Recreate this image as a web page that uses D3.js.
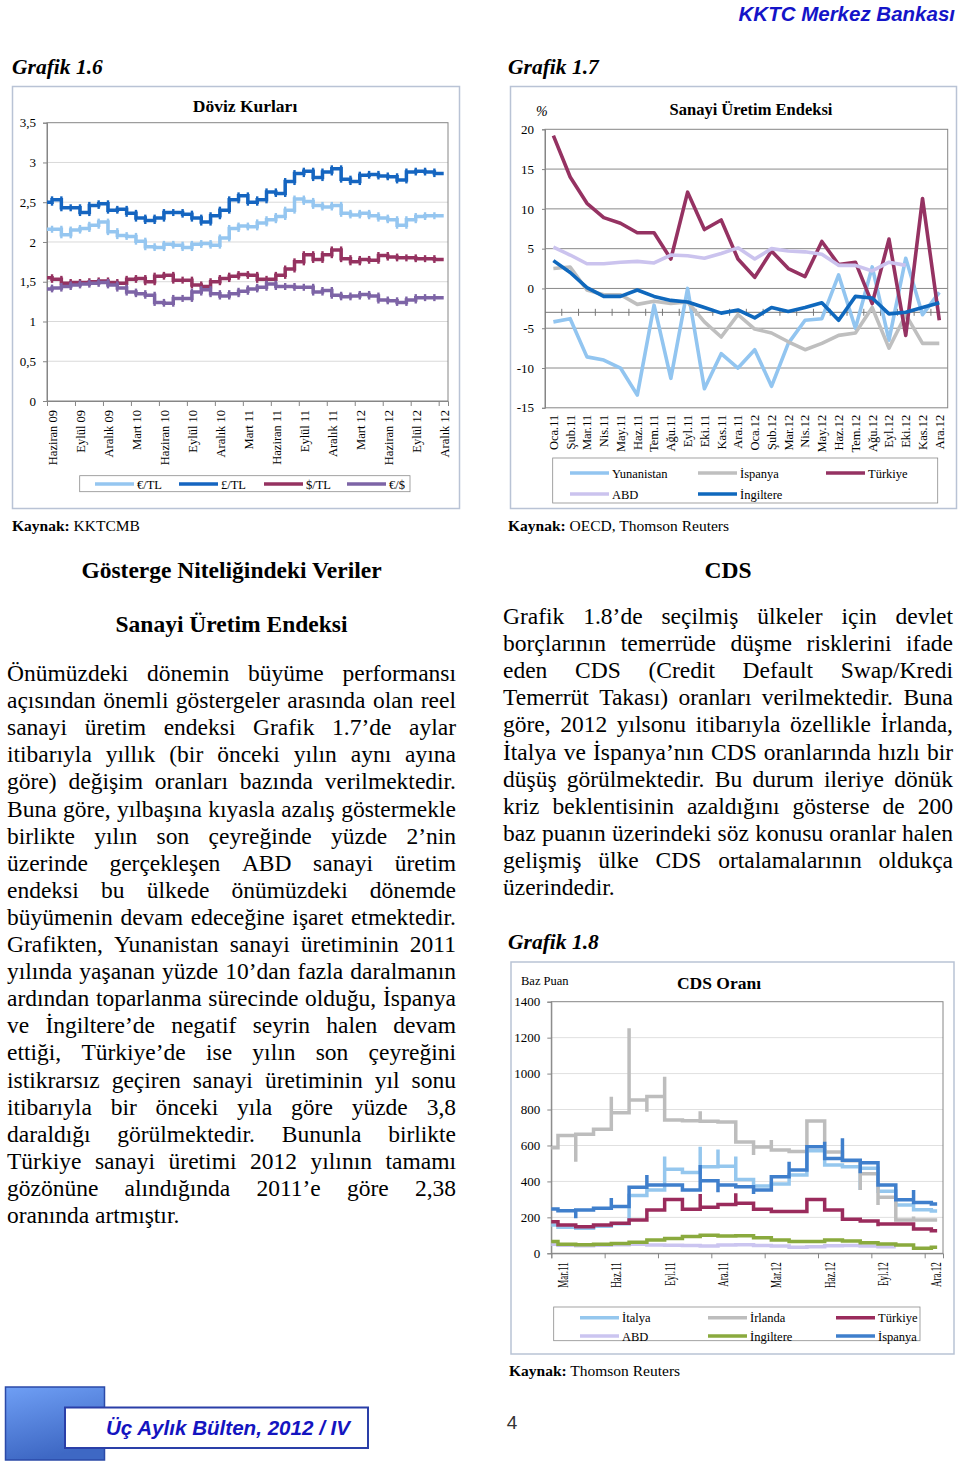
<!DOCTYPE html>
<html><head><meta charset="utf-8">
<script src="https://cdn.jsdelivr.net/npm/d3@7"></script>
<style>body{margin:0;background:#fff}svg{display:block}</style>
</head><body>
<svg id="page" width="960" height="1466"></svg>
<script>
// ---------- DATA ----------
// Grafik 1.6 Döviz Kurları (monthly, Haziran 09 .. Aralık 12)
const fxTickLabels = ["Haziran 09","Eylül 09","Aralık 09","Mart 10","Haziran 10","Eylül 10","Aralık 10","Mart 11","Haziran 11","Eylül 11","Aralık 11","Mart 12","Haziran 12","Eylül 12","Aralık 12"];
const fxYTicks = [0,0.5,1,1.5,2,2.5,3,3.5];
const eurTL = [2.16,2.16,2.09,2.15,2.17,2.21,2.25,2.13,2.08,2.07,2.01,1.94,1.93,1.97,1.96,1.93,1.97,1.98,1.96,2.05,2.17,2.20,2.19,2.24,2.28,2.32,2.40,2.54,2.51,2.46,2.44,2.46,2.36,2.34,2.36,2.33,2.30,2.28,2.21,2.28,2.32,2.33,2.33];
const gbpTL = [2.50,2.53,2.43,2.43,2.37,2.46,2.48,2.40,2.41,2.36,2.30,2.27,2.30,2.37,2.37,2.35,2.30,2.25,2.33,2.40,2.53,2.58,2.50,2.53,2.63,2.61,2.76,2.86,2.89,2.81,2.88,2.92,2.79,2.76,2.84,2.85,2.83,2.82,2.78,2.88,2.89,2.88,2.86];
const usdTL = [1.55,1.53,1.48,1.49,1.49,1.50,1.51,1.49,1.48,1.53,1.54,1.50,1.57,1.58,1.52,1.52,1.46,1.44,1.50,1.54,1.57,1.59,1.58,1.53,1.53,1.58,1.66,1.75,1.84,1.78,1.84,1.90,1.79,1.75,1.78,1.77,1.83,1.81,1.80,1.80,1.79,1.79,1.78];
const eurUSD = [1.41,1.42,1.44,1.46,1.47,1.48,1.49,1.46,1.42,1.37,1.35,1.33,1.24,1.23,1.29,1.29,1.37,1.40,1.35,1.32,1.35,1.38,1.41,1.43,1.47,1.44,1.44,1.43,1.43,1.37,1.39,1.33,1.31,1.32,1.34,1.32,1.27,1.26,1.24,1.27,1.30,1.30,1.30];
const fxNames = ["€/TL","£/TL","$/TL","€/$"];

// Grafik 1.7 Sanayi Üretim Endeksi (%)
const ipMonths = ["Oca.11","Şub.11","Mar.11","Nis.11","May.11","Haz.11","Tem.11","Ağu.11","Eyl.11","Eki.11","Kas.11","Ara.11","Oca.12","Şub.12","Mar.12","Nis.12","May.12","Haz.12","Tem.12","Ağu.12","Eyl.12","Eki.12","Kas.12","Ara.12"];
const ipYTicks = [-15,-10,-5,0,5,10,15,20];
const ipYunanistan = [-4.2,-3.8,-8.6,-9.0,-10.0,-13.4,-2.1,-11.3,0.0,-12.6,-8.2,-10.0,-7.7,-12.3,-6.9,-4.0,-3.8,1.7,-5.0,2.7,-6.5,3.8,-3.3,-0.5];
const ipIspanya = [2.5,2.7,-0.2,-0.8,-0.8,-2.0,-1.6,-1.9,-1.7,-4.2,-6.1,-3.3,-5.1,-5.6,-6.7,-7.7,-6.9,-5.9,-5.6,-2.4,-7.5,-3.3,-6.9,-6.9];
const ipTurkiye = [19.2,14.0,10.7,8.9,8.2,7.0,7.0,3.7,12.1,7.4,8.6,3.7,1.4,4.7,2.5,1.5,5.9,3.0,3.3,-1.9,6.2,-5.9,11.3,-4.0];
const ipABD = [5.2,4.2,3.1,3.1,3.3,3.4,3.2,4.2,4.1,3.8,4.4,5.1,3.7,5.0,4.7,4.6,4.3,2.9,2.9,2.2,3.3,2.9];
const ipIngiltere = [3.5,2.0,0.1,-1.0,-1.0,-0.2,-1.0,-1.5,-1.7,-2.4,-3.1,-2.7,-3.7,-2.4,-2.9,-2.4,-1.8,-4.0,-1.0,-1.2,-3.2,-3.0,-2.4,-1.8];
const ipNames = ["Yunanistan","İspanya","Türkiye","ABD","İngiltere"];

// Grafik 1.8 CDS Oranı (baz puan, monthly steps from Mar.11)
const cdsTickLabels = ["Mar.11","Haz.11","Eyl.11","Ara.11","Mar.12","Haz.12","Eyl.12","Ara.12"];
const cdsYTicks = [0,200,400,600,800,1000,1200,1400];
const cdsItalya = [158,145,140,150,165,322,352,467,450,482,485,410,375,386,436,571,491,482,473,345,269,243,235];
const cdsIrlanda = [588,655,662,690,782,853,872,742,737,735,730,620,592,575,566,736,563,515,442,312,185,185,185];
const cdsTurkiye = [176,158,148,158,167,185,241,300,245,256,272,278,245,232,232,300,241,189,180,163,163,135,126];
const cdsABD = [50,45,42,45,48,50,46,45,44,40,46,47,44,40,34,36,42,44,40,36];
const cdsIngiltere = [65,50,48,50,55,62,74,83,93,100,96,98,87,74,65,65,74,69,59,52,46,28,33];
const cdsIspanya = [247,237,241,250,260,367,380,380,352,404,380,371,352,426,463,593,528,518,504,380,298,283,275];
// intra-month extremes at each step change
const italyaSpikes = [null,null,null,null,null,null,538,null,593,578,538,null,null,null,null,null,null,352,null,null,null,null];
const irlandaSpikes = [null,510,null,871,1252,788,983,null,790,null,null,547,630,null,null,null,null,352,269,null,205,null];
const turkiyeSpikes = [null,null,null,null,null,null,null,null,330,null,334,null,null,null,null,null,null,null,150,null,null,null];
const ispanyaSpikes = [null,195,null,308,null,436,null,null,491,340,null,330,null,510,null,621,640,445,null,null,352,null];
const cdsNames = ["İtalya","İrlanda","Türkiye","ABD","İngiltere","İspanya"];

// ---------- HELPERS ----------
const SERIF = "'Liberation Serif','Times New Roman',serif";
const SANS = "'Liberation Sans',Arial,sans-serif";
const svg = d3.select("#page");
svg.append("rect").attr("width",960).attr("height",1466).attr("fill","#fff");

function txt(p, x, y, s, o={}) {
  return p.append("text").attr("x",x).attr("y",y).text(s)
    .attr("font-family",o.family||SERIF).attr("font-size",o.size||13)
    .attr("font-weight",o.weight||"normal").attr("font-style",o.style||"normal")
    .attr("fill",o.fill||"#000").attr("text-anchor",o.anchor||"start");
}
// step path points with optional spikes at step changes
function stepPts(vals, offset, xEnd, spikes) {
  const pts = [[0, vals[0]]];
  for (let k = 0; k < vals.length - 1; k++) {
    const t = k + offset;
    if (t > xEnd) break;
    pts.push([t, vals[k]]);
    if (spikes && spikes[k] != null) pts.push([t, spikes[k]]);
    pts.push([t, vals[k + 1]]);
  }
  pts.push([Math.min(xEnd, vals.length - 1 + offset), vals[vals.length - 1]]);
  return pts;
}
function frame(x,y,w,h){
  svg.append("rect").attr("x",x).attr("y",y).attr("width",w).attr("height",h)
    .attr("fill","#fff").attr("stroke","#b9c3d5").attr("stroke-width",1.5);
}
function legend(box, items, size){
  svg.append("rect").attr("x",box[0]).attr("y",box[1]).attr("width",box[2]).attr("height",box[3])
    .attr("fill","none").attr("stroke","#8c8c8c").attr("stroke-width",0.8);
  items.forEach(it=>{
    svg.append("line").attr("x1",it.x).attr("x2",it.x+39).attr("y1",it.y).attr("y2",it.y)
      .attr("stroke",it.c).attr("stroke-width",3.5);
    txt(svg, it.x+42, it.y+4.5, it.n, {size:size});
  });
}
function styleAxis(g){
  g.selectAll("path.domain").attr("stroke","#868686");
  g.selectAll(".tick line").attr("stroke","#868686");
  g.selectAll("text").attr("font-family",SERIF).attr("fill","#000");
}

// ---------- HEADER ----------
txt(svg, 955, 21, "KKTC Merkez Bankası", {family:SANS, size:20.5, weight:"bold", style:"italic", fill:"#1414c8", anchor:"end"});
txt(svg, 12, 74, "Grafik 1.6", {size:21.5, weight:"bold", style:"italic"});
txt(svg, 508, 74, "Grafik 1.7", {size:21.5, weight:"bold", style:"italic"});

// ---------- GRAFIK 1.6 ----------
frame(12.5, 86.5, 447, 422);
{
  const L=47, R=448, T=122.7, B=401;
  const x = d3.scaleLinear().domain([0,43]).range([L,R]);
  const y = d3.scaleLinear().domain([0,3.5]).range([B,T]);
  const g = svg.append("g");
  g.selectAll(".gr").data(fxYTicks.slice(1,-1)).join("line")
    .attr("x1",L).attr("x2",R).attr("y1",d=>y(d)).attr("y2",d=>y(d)).attr("stroke","#d9d9d9");
  g.append("rect").attr("x",L).attr("y",T).attr("width",R-L).attr("height",B-T).attr("fill","none").attr("stroke","#868686");
  const ya = g.append("g").attr("transform",`translate(${L},0)`)
    .call(d3.axisLeft(y).tickValues(fxYTicks).tickSize(4).tickPadding(7).tickFormat(d=>String(d).replace(".",",")));
  styleAxis(ya); ya.selectAll("text").attr("font-size",13);
  const xa = g.append("g").attr("transform",`translate(0,${B})`)
    .call(d3.axisBottom(x).tickValues(d3.range(0,43,3)).tickSize(5).tickFormat((d,i)=>fxTickLabels[i]));
  styleAxis(xa);
  xa.selectAll("text").attr("font-size",12.5).attr("x",0).attr("y",0).attr("dy","0.35em")
    .attr("text-anchor","end").attr("transform","translate(5,9) rotate(-90)");
  const series = [eurTL,gbpTL,usdTL,eurUSD];
  const cols = ["#95c6f0","#1565c0","#953260","#7d64a6"];
  const line = d3.line().x(d=>x(d[0])).y(d=>y(d[1]));
  series.forEach((s,i)=>{
    const pts = stepPts(s, 0.54, 42.7);
    g.append("path").attr("d",line(pts)).attr("fill","none").attr("stroke",cols[i])
      .attr("stroke-width",3.5).attr("stroke-linejoin","miter");
    // vertical markers at step changes
    for (let k=0;k<s.length-1;k++){
      const a=y(s[k]), b=y(s[k+1]);
      g.append("line").attr("x1",x(k+0.54)).attr("x2",x(k+0.54))
        .attr("y1",Math.min(a,b)-3.5).attr("y2",Math.max(a,b)+3.5)
        .attr("stroke",cols[i]).attr("stroke-width",2.4);
    }
  });
  txt(svg, 245, 112, "Döviz Kurları", {size:17.5, weight:"bold", anchor:"middle"});
  legend([79.7,475.7,330.3,16], [
    {x:95,y:484,c:cols[0],n:fxNames[0]},{x:179,y:484,c:cols[1],n:fxNames[1]},
    {x:264,y:484,c:cols[2],n:fxNames[2]},{x:347,y:484,c:cols[3],n:fxNames[3]}], 12.5);
}
txt(svg, 12, 531, "", {size:15.5}).call(t=>{
  t.append("tspan").attr("font-weight","bold").text("Kaynak:");
  t.append("tspan").text(" KKTCMB");
});

// ---------- GRAFIK 1.7 ----------
frame(510.5, 86.5, 446, 422);
{
  const L=545, R=947.7, T=129.3, B=407.8;
  const x = d3.scaleBand().domain(ipMonths).range([L,R]);
  const y = d3.scaleLinear().domain([-15,20]).range([B,T]);
  const g = svg.append("g");
  g.selectAll(".gr").data(ipYTicks.slice(1,-1)).join("line")
    .attr("x1",L).attr("x2",R).attr("y1",d=>y(d)).attr("y2",d=>y(d)).attr("stroke","#8a8a8a");
  g.append("rect").attr("x",L).attr("y",T).attr("width",R-L).attr("height",B-T).attr("fill","none").attr("stroke","#868686");
  const ya = g.append("g").attr("transform",`translate(${L},0)`)
    .call(d3.axisLeft(y).tickValues(ipYTicks).tickSize(3).tickPadding(8).tickFormat(d=>String(d)));
  styleAxis(ya); ya.selectAll("text").attr("font-size",13);
  // horizontal category axis crossing at -3
  const y0 = y(-3);
  g.append("line").attr("x1",L).attr("x2",R).attr("y1",y0).attr("y2",y0).attr("stroke","#777");
  g.selectAll(".xt").data(d3.range(1,24)).join("line")
    .attr("x1",d=>L+d*x.bandwidth()).attr("x2",d=>L+d*x.bandwidth())
    .attr("y1",y0-3.5).attr("y2",y0+3.5).attr("stroke","#777");
  g.selectAll(".xl").data(ipMonths).join("text")
    .attr("transform",d=>`translate(${x(d)+x.bandwidth()/2},${B+7}) rotate(-90)`)
    .attr("dy","0.35em").attr("text-anchor","end").attr("font-family",SERIF).attr("font-size",12.5).text(d=>d);
  const series = [ipYunanistan, ipIspanya, ipTurkiye, ipABD, ipIngiltere];
  const cols = ["#92c5f0","#bfbfbf","#953262","#cbc3ee","#0f68bd"];
  const line = d3.line().x((d,i)=>x(ipMonths[i])+x.bandwidth()/2).y(d=>y(d));
  series.forEach((s,i)=>{
    g.append("path").attr("d",line(s)).attr("fill","none").attr("stroke",cols[i])
      .attr("stroke-width",3.6).attr("stroke-linejoin","round");
  });
  txt(svg, 751, 115, "Sanayi Üretim Endeksi", {size:16.5, weight:"bold", anchor:"middle"});
  txt(svg, 536, 116, "%", {size:14, style:"italic"});
  legend([552.7,458,385,45], [
    {x:570,y:473,c:cols[0],n:ipNames[0]},{x:698,y:473,c:cols[1],n:ipNames[1]},
    {x:826,y:473,c:cols[2],n:ipNames[2]},{x:570,y:494,c:cols[3],n:ipNames[3]},
    {x:698,y:494,c:cols[4],n:ipNames[4]}], 12.5);
}
txt(svg, 508, 531, "", {size:15.5}).call(t=>{
  t.append("tspan").attr("font-weight","bold").text("Kaynak:");
  t.append("tspan").text(" OECD, Thomson Reuters");
});

// ---------- TEXT ----------
function justify(lines, x0, x1, y0, lh, size){
  const g = svg.append("g").attr("font-family",SERIF).attr("font-size",size).attr("fill","#000");
  const t0 = g.append("text").text("a a"); const a = t0.node().getComputedTextLength();
  t0.text("aa"); const sp = a - t0.node().getComputedTextLength(); t0.remove();
  lines.forEach((line,i)=>{
    const words = line.split(" ");
    const yy = y0 + i*lh;
    const ts = words.map(w=>g.append("text").attr("y",yy).text(w));
    const ws = ts.map(t=>t.node().getComputedTextLength());
    const last = i === lines.length-1;
    const gap = (last || words.length<2) ? sp : (x1-x0-d3.sum(ws))/(words.length-1);
    let xx = x0;
    ts.forEach((t,j)=>{ t.attr("x",xx); xx += ws[j]+gap; });
  });
}
txt(svg, 231.5, 578, "Gösterge Niteliğindeki Veriler", {size:23.5, weight:"bold", anchor:"middle"});
txt(svg, 231.5, 632, "Sanayi Üretim Endeksi", {size:23.5, weight:"bold", anchor:"middle"});
txt(svg, 728, 578, "CDS", {size:23.5, weight:"bold", anchor:"middle"});
justify([
 "Önümüzdeki dönemin büyüme performansı",
 "açısından önemli göstergeler arasında olan reel",
 "sanayi üretim endeksi Grafik 1.7’de aylar",
 "itibarıyla yıllık (bir önceki yılın aynı ayına",
 "göre) değişim oranları bazında verilmektedir.",
 "Buna göre, yılbaşına kıyasla azalış göstermekle",
 "birlikte yılın son çeyreğinde yüzde 2’nin",
 "üzerinde gerçekleşen ABD sanayi üretim",
 "endeksi bu ülkede önümüzdeki dönemde",
 "büyümenin devam edeceğine işaret etmektedir.",
 "Grafikten, Yunanistan sanayi üretiminin 2011",
 "yılında yaşanan yüzde 10’dan fazla daralmanın",
 "ardından toparlanma sürecinde olduğu, İspanya",
 "ve İngiltere’de negatif seyrin halen devam",
 "ettiği, Türkiye’de ise yılın son çeyreğini",
 "istikrarsız geçiren sanayi üretiminin yıl sonu",
 "itibarıyla bir önceki yıla göre yüzde 3,8",
 "daraldığı görülmektedir. Bununla birlikte",
 "Türkiye sanayi üretimi 2012 yılının tamamı",
 "gözönüne alındığında 2011’e göre 2,38",
 "oranında artmıştır."
], 7, 456, 681, 27.1, 23.5);
justify([
 "Grafik 1.8’de seçilmiş ülkeler için devlet",
 "borçlarının temerrüde düşme risklerini ifade",
 "eden CDS (Credit Default Swap/Kredi",
 "Temerrüt Takası) oranları verilmektedir. Buna",
 "göre, 2012 yılsonu itibarıyla özellikle İrlanda,",
 "İtalya ve İspanya’nın CDS oranlarında hızlı bir",
 "düşüş görülmektedir. Bu durum ileriye dönük",
 "kriz beklentisinin azaldığını gösterse de 200",
 "baz puanın üzerindeki söz konusu oranlar halen",
 "gelişmiş ülke CDS ortalamalarının oldukça",
 "üzerindedir."
], 503, 953, 624, 27.1, 23.5);

// ---------- GRAFIK 1.8 ----------
txt(svg, 508, 949, "Grafik 1.8", {size:21.5, weight:"bold", style:"italic"});
frame(511, 962, 443, 392);
{
  const L=551.3, R=943, T=1001.7, B=1253.3;
  const x = d3.scaleLinear().domain([0,22.03]).range([L,R]);
  const y = d3.scaleLinear().domain([0,1400]).range([B,T]);
  const g = svg.append("g");
  g.selectAll(".gr").data(cdsYTicks.slice(1,-1)).join("line")
    .attr("x1",L).attr("x2",R).attr("y1",d=>y(d)).attr("y2",d=>y(d)).attr("stroke","#e0e0e0");
  g.append("rect").attr("x",L).attr("y",T).attr("width",R-L).attr("height",B-T).attr("fill","none").attr("stroke","#868686");
  const ya = g.append("g").attr("transform",`translate(${L},0)`)
    .call(d3.axisLeft(y).tickValues(cdsYTicks).tickSize(4).tickPadding(7).tickFormat(d=>String(d)));
  styleAxis(ya); ya.selectAll("text").attr("font-size",13);
  const xa = g.append("g").attr("transform",`translate(0,${B})`)
    .call(d3.axisBottom(x).tickValues(d3.range(0,22,3)).tickSize(5).tickFormat((d,i)=>cdsTickLabels[i]));
  styleAxis(xa);
  xa.selectAll("text").attr("font-size",15).attr("x",0).attr("y",0).attr("dy","0.35em")
    .attr("text-anchor","end").attr("transform","translate(11,9) rotate(-90) scale(0.6,1)");
  const series = [cdsItalya, cdsIrlanda, cdsTurkiye, cdsABD, cdsIngiltere, cdsIspanya];
  const spikes = [italyaSpikes, irlandaSpikes, turkiyeSpikes, null, null, ispanyaSpikes];
  const cols = ["#95c7ee","#bdbdbd","#9a2b5c","#cbc5f0","#8aaa3e","#3f7fcc"];
  const line = d3.line().x(d=>x(d[0])).y(d=>y(d[1]));
  series.forEach((s,i)=>{
    const pts = stepPts(s, 0.375, 21.7, spikes[i]);
    g.append("path").attr("d",line(pts)).attr("fill","none").attr("stroke",cols[i])
      .attr("stroke-width",3.5).attr("stroke-linejoin","miter");
  });
  txt(svg, 719, 989, "CDS Oranı", {size:17.5, weight:"bold", anchor:"middle"});
  txt(svg, 521, 985, "Baz Puan", {size:12.5});
  legend([553.7,1307,366.3,33.7], [
    {x:580,y:1317.7,c:cols[0],n:cdsNames[0]},{x:708,y:1317.7,c:cols[1],n:cdsNames[1]},
    {x:836,y:1317.7,c:cols[2],n:cdsNames[2]},{x:580,y:1336,c:cols[3],n:cdsNames[3]},
    {x:708,y:1336,c:cols[4],n:cdsNames[4]},{x:836,y:1336,c:cols[5],n:cdsNames[5]}], 12.5);
}
txt(svg, 509, 1376, "", {size:15.5}).call(t=>{
  t.append("tspan").attr("font-weight","bold").text("Kaynak:");
  t.append("tspan").text(" Thomson Reuters");
});

// ---------- FOOTER ----------
const defs = svg.append("defs");
const lg = defs.append("linearGradient").attr("id","fg").attr("x1",0).attr("y1",0).attr("x2",0.3).attr("y2",1);
lg.append("stop").attr("offset","0%").attr("stop-color","#6f9ff5");
lg.append("stop").attr("offset","100%").attr("stop-color","#3e68c4");
svg.append("rect").attr("x",5.5).attr("y",1387).attr("width",99).attr("height",73)
  .attr("fill","url(#fg)").attr("stroke","#2b4aa8").attr("stroke-width",1.5);
svg.append("rect").attr("x",65).attr("y",1407.5).attr("width",303).attr("height",40.5)
  .attr("fill","#fff").attr("stroke","#2a3fa8").attr("stroke-width",2);
txt(svg, 228, 1435, "Üç Aylık Bülten, 2012 / IV", {family:SANS, size:20.6, weight:"bold", style:"italic", fill:"#1414c0", anchor:"middle"});
txt(svg, 512, 1429, "4", {family:SANS, size:19, fill:"#333", anchor:"middle"});
</script>
</body></html>
